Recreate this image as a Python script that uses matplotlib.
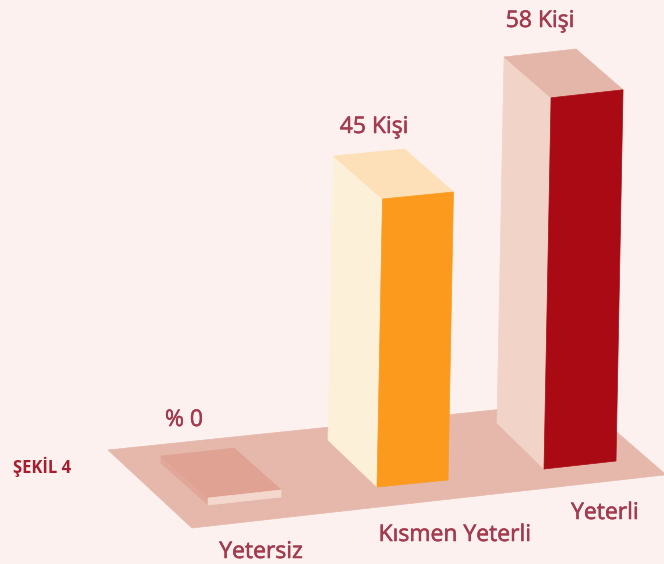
import matplotlib
matplotlib.use("Agg")
import matplotlib.pyplot as plt
import matplotlib.patheffects as pe
from matplotlib.patches import Polygon

plt.rcParams['font.family'] = ['Open Sans', 'DejaVu Sans']

categories = ["Yetersiz", "Kısmen Yeterli", "Yeterli"]
values = [0, 45, 58]
value_labels = ["% 0", "45 Kişi", "58 Kişi"]

BG = '#fcf1ef'
TEXT = '#a33a4e'
PX_PER_VALUE = 6.4
LEAN = 0.019
BACK_SHRINK = 0.986

# picture is a fake 3d chart, so the axes run in pixels of the image
fig = plt.figure(figsize=(6.64, 5.64), dpi=100, facecolor=BG)
ax = fig.add_axes([0, 0, 1, 1])
ax.set_xlim(0, 664)
ax.set_ylim(564, 0)
ax.axis('off')


def face(points, color, z):
    ax.add_patch(Polygon(points, closed=True, facecolor=color, edgecolor=color, lw=0.5, zorder=z))


def bar3d(front_left, front_right, back, height, colors, z):
    # colors: left side, top, front
    fl, fr = front_left, front_right
    lean = LEAN * height
    back_h = height * BACK_SHRINK
    tl = (fl[0] + lean, fl[1] - height)
    tr = (fr[0] + lean, fr[1] - height)
    bl = (fl[0] + back[0], fl[1] + back[1])
    tbl = (bl[0] + lean, bl[1] - back_h)
    tbr = (fr[0] + back[0] + lean, fr[1] + back[1] - back_h)
    face([bl, fl, tl, tbl], colors[0], z)
    face([tbl, tbr, tr, tl], colors[1], z)
    face([fl, fr, tr, tl], colors[2], z)


# floor
face([(108, 450), (581, 401), (664, 473), (664, 475), (192, 528)], '#e5b8ab', 1)

base_left = [(208, 505), (377, 487), (544, 469)]
base_right = [(281, 497), (448, 480), (616, 461)]
back_offset = [(-47, -42), (-49, -47), (-47, -46)]
bar_colors = [
    ('#e2a798', '#e0a293', '#f4d8ce'),
    ('#fdf0d9', '#fde0b8', '#fb9a1c'),
    ('#f2d3c8', '#e4b6a9', '#a90a14'),
]
PLATE = 7  # the zero bar is still drawn as a thin slab

for i, v in enumerate(values):
    h = v * PX_PER_VALUE if v > 0 else PLATE
    bar3d(base_left[i], base_right[i], back_offset[i], h, bar_colors[i], 2 + i)

heavy = [pe.withStroke(linewidth=0.4, foreground=TEXT)]

label_pos = [(184, 420), (374, 127), (540, 21)]
for lab, (x, y) in zip(value_labels, label_pos):
    ax.text(x, y, lab, color=TEXT, fontsize=16.5, ha='center', va='center', path_effects=heavy)

cat_pos = [(261, 552), (455, 535), (605, 513)]
for lab, (x, y) in zip(categories, cat_pos):
    ax.text(x, y, lab, color=TEXT, fontsize=16.5, ha='center', va='center', path_effects=heavy)

ax.text(42, 467, "ŞEKİL 4", color='#a81c2e', fontsize=12, fontweight='bold', ha='center', va='center')

fig.savefig('out.png', dpi=100, facecolor=BG)
